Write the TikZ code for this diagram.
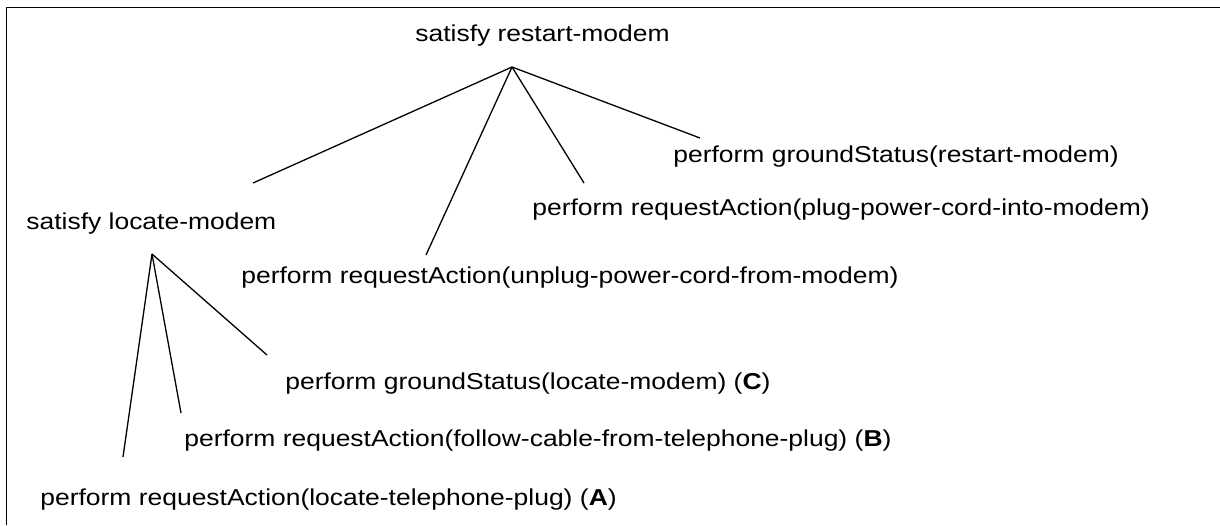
\documentclass[tikz,border=0pt]{standalone}
\usepackage{fontspec}
\setmainfont{Liberation Sans}[FakeStretch=1.15]
\usepackage{tikz}
\usetikzlibrary{positioning}

\tikzset{
  goal/.style={anchor=base west, inner sep=0pt, font=\fontsize{11.5}{13}\selectfont},
  branch/.style={line width=0.65pt}
}

\begin{document}
\begin{tikzpicture}[x=0.5pt, y=-0.5pt]
  \useasboundingbox (0,0) rectangle (1220,525);
  \draw[line width=0.9pt] (6.5,525) -- (6.5,7.5) -- (1220,7.5);

  \node[goal] (restart) at (415,41) {satisfy restart-modem};
  \node[goal] (gsrestart) at (673,162) {perform groundStatus(restart-modem)};
  \node[goal] (plug) at (532,215) {perform requestAction(plug-power-cord-into-modem)};
  \node[goal] (locate) at (26,229) {satisfy locate-modem};
  \node[goal] (unplug) at (241,283) {perform requestAction(unplug-power-cord-from-modem)};
  \node[goal] (gslocate) at (285,389) {perform groundStatus(locate-modem) (\textbf{C})};
  \node[goal] (follow) at (184,446) {perform requestAction(follow-cable-from-telephone-plug) (\textbf{B})};
  \node[goal] (phone) at (40,505) {perform requestAction(locate-telephone-plug) (\textbf{A})};

  % joints and line ends
  \coordinate (rj) at (512,67);
  \coordinate (lj) at (152,254);
  \coordinate (locate-e) at (253,183);
  \coordinate (unplug-e) at (426,255);
  \coordinate (plug-e) at (584,183);
  \coordinate (gsrestart-e) at (700,138);
  \coordinate (gslocate-e) at (267,355);
  \coordinate (follow-e) at (181,413);
  \coordinate (phone-e) at (123,457);

  \path[branch] (rj) edge (locate-e) edge (unplug-e) edge (plug-e) edge (gsrestart-e);
  \path[branch] (lj) edge (gslocate-e) edge (follow-e) edge (phone-e);
\end{tikzpicture}
\end{document}
